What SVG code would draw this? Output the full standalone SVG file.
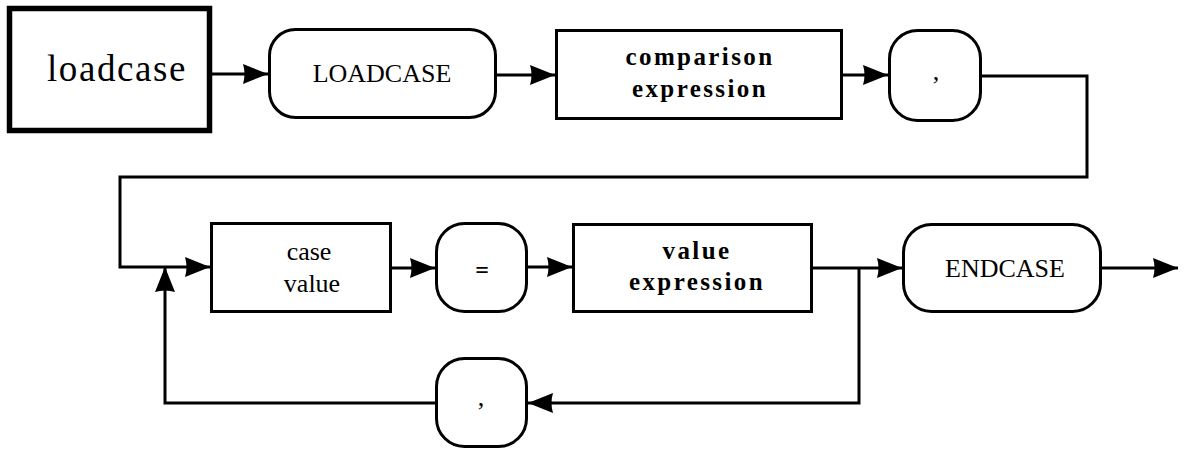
<svg xmlns="http://www.w3.org/2000/svg" width="1185" height="451" viewBox="0 0 1185 451">
<style>
.box{fill:#fff;stroke:#000;stroke-width:3}
.thick{fill:#fff;stroke:#000;stroke-width:5.5}
.ln{fill:none;stroke:#000;stroke-width:3}
.t{font-family:"Liberation Serif","Times New Roman",serif;fill:#000;text-anchor:middle}
.kw{font-size:26px}
.sp{font-size:25px;font-weight:bold;letter-spacing:2.4px}
.big{font-size:37px;letter-spacing:1.6px}
</style>
<defs>
<marker id="ah" markerUnits="userSpaceOnUse" markerWidth="26" markerHeight="22" viewBox="0 0 26 22" refX="25" refY="11" orient="auto">
<path d="M0,1 L25,11 L0,21 Q3,11 0,1 Z" fill="#000"/>
</marker>
</defs>
<g id="connectors">
<path class="ln" d="M212 74 H268" marker-end="url(#ah)"/>
<path class="ln" d="M497 75 H555" marker-end="url(#ah)"/>
<path class="ln" d="M843 75 H888" marker-end="url(#ah)"/>
<path class="ln" d="M982 76 H1087 V177 H120 V267 H210" marker-end="url(#ah)"/>
<path class="ln" d="M392 268 H435" marker-end="url(#ah)"/>
<path class="ln" d="M528 267 H572" marker-end="url(#ah)"/>
<path class="ln" d="M813 268 H902" marker-end="url(#ah)"/>
<path class="ln" d="M859 268 V403 H528" marker-end="url(#ah)"/>
<path class="ln" d="M435 403 H165 V267" marker-end="url(#ah)"/>
<path class="ln" d="M1102 268 H1178" marker-end="url(#ah)"/>
</g>
<g id="loadcase">
<rect class="thick" x="9.5" y="8.5" width="200" height="122"/>
<text class="t big" x="117" y="81">loadcase</text>
</g>
<g id="LOADCASE">
<rect class="box" x="269.5" y="29.5" width="226" height="88" rx="26"/>
<text class="t kw" x="382" y="82">LOADCASE</text>
</g>
<g id="comparison-expression">
<rect class="box" x="556.5" y="30.5" width="285" height="88"/>
<text class="t sp" x="700" y="65">comparison</text>
<text class="t sp" x="700" y="97">expression</text>
</g>
<g id="comma-1">
<rect class="box" x="889.5" y="30.5" width="91" height="90" rx="28"/>
<text class="t kw" x="936" y="80">,</text>
</g>
<g id="case-value">
<rect class="box" x="211.5" y="223.5" width="179" height="88"/>
<text class="t kw" x="309" y="260">case</text>
<text class="t kw" x="312" y="292">value</text>
</g>
<g id="equals">
<rect class="box" x="436.5" y="223.5" width="90" height="88" rx="28"/>
<text class="t" style="font-size:24px;font-weight:bold" x="482" y="278">=</text>
</g>
<g id="value-expression">
<rect class="box" x="573.5" y="224.5" width="238" height="87"/>
<text class="t sp" x="697" y="259">value</text>
<text class="t sp" x="697" y="290">expression</text>
</g>
<g id="ENDCASE">
<rect class="box" x="903.5" y="224.5" width="197" height="87" rx="28"/>
<text class="t kw" x="1005" y="277">ENDCASE</text>
</g>
<g id="comma-2">
<rect class="box" x="436.5" y="358.5" width="90" height="88" rx="28"/>
<text class="t kw" x="481" y="406">,</text>
</g>
</svg>
